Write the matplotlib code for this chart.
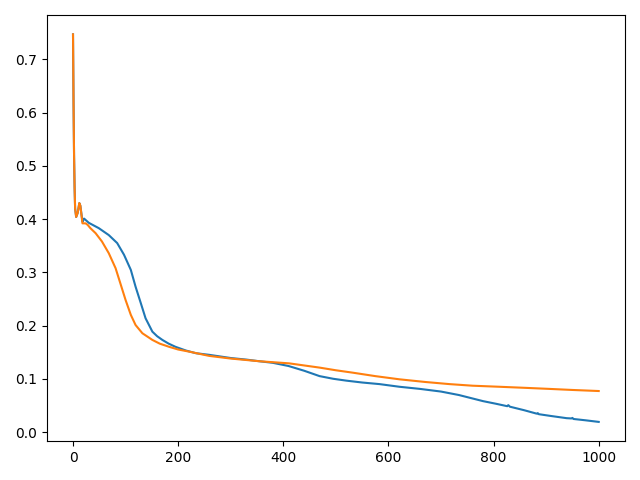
import numpy as np
import matplotlib.pyplot as plt

# loss curves
steps_a = [0, 1, 2, 3, 4, 6, 9, 12, 14, 18, 21, 30, 49, 68, 84, 97, 110,
           119, 129, 138, 151, 160, 170, 182, 195, 215, 234, 259, 300, 330,
           354, 380, 410, 440, 469, 495, 520, 550, 583, 621, 660, 700, 734,
           760, 780, 805, 826, 828, 831, 858, 882, 884, 886, 910, 939, 948,
           950, 952, 975, 1000]
loss_a = [0.747, 0.62, 0.52, 0.46, 0.42, 0.404, 0.412, 0.43, 0.425, 0.395,
          0.401, 0.393, 0.383, 0.370, 0.355, 0.333, 0.3045, 0.273, 0.242,
          0.2137, 0.1885, 0.180, 0.173, 0.166, 0.160, 0.153, 0.148, 0.145,
          0.139, 0.136, 0.133, 0.130, 0.124, 0.115, 0.105, 0.100, 0.0965,
          0.093, 0.090, 0.085, 0.081, 0.076, 0.0695, 0.063, 0.058, 0.053,
          0.0485, 0.0505, 0.0476, 0.041, 0.0345, 0.0355, 0.0335, 0.030,
          0.026, 0.0255, 0.0265, 0.0245, 0.022, 0.019]

steps_b = [0, 1, 2, 3, 4, 6, 9, 12, 14, 18, 24, 28, 33, 43, 55, 68, 81,
           90, 100, 110, 119, 132, 151, 165, 183, 200, 221, 259, 300, 354,
           411, 440, 469, 500, 532, 575, 621, 670, 716, 760, 811, 860, 906,
           950, 1000]
loss_b = [0.747, 0.62, 0.52, 0.46, 0.42, 0.404, 0.412, 0.43, 0.425, 0.392,
          0.392, 0.389, 0.383, 0.3735, 0.358, 0.336, 0.3077, 0.2795, 0.248,
          0.220, 0.201, 0.1855, 0.173, 0.166, 0.160, 0.155, 0.151, 0.143,
          0.138, 0.133, 0.129, 0.125, 0.121, 0.116, 0.1115, 0.105, 0.099,
          0.094, 0.090, 0.087, 0.085, 0.083, 0.081, 0.079, 0.077]

fig, ax = plt.subplots(figsize=(6.4, 4.8), dpi=100)
ax.plot(steps_a, loss_a)
ax.plot(steps_b, loss_b)
fig.tight_layout()
fig.savefig('out.png')
